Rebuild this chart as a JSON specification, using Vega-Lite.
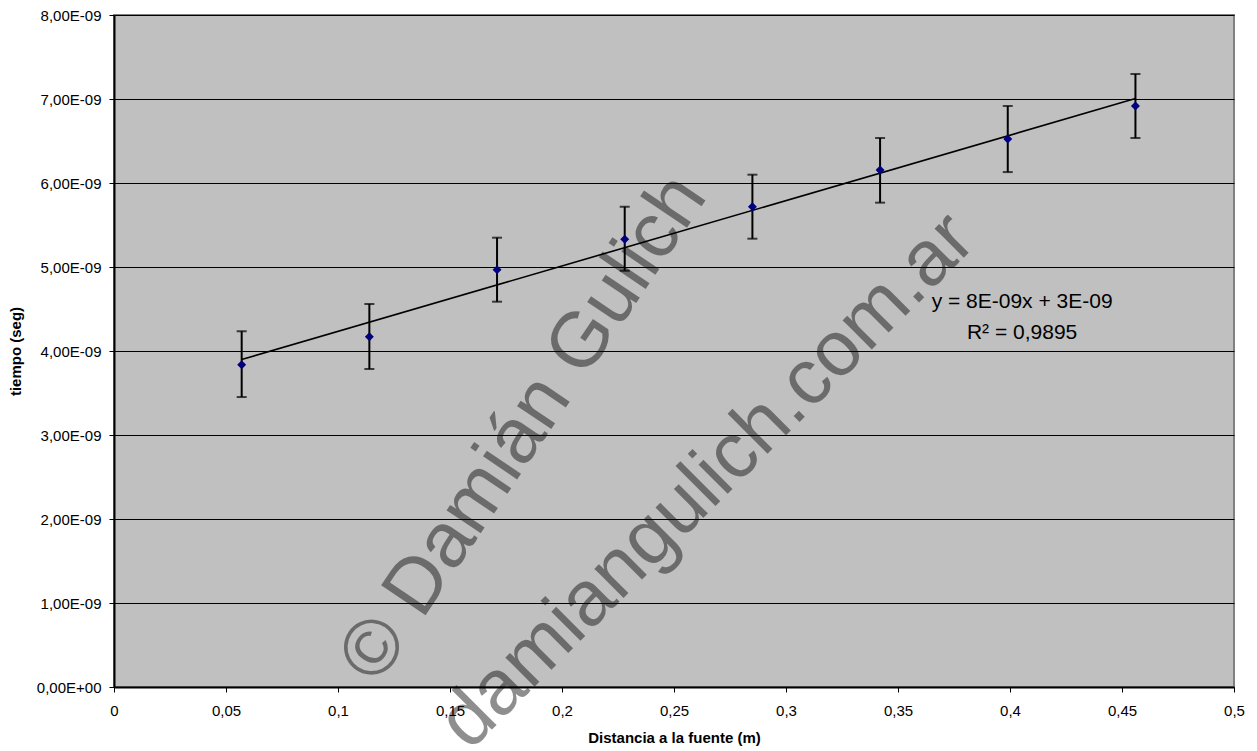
{
  "$schema": "https://vega.github.io/schema/vega-lite/v6.json",
  "width": 1120,
  "height": 672,
  "autosize": "none",
  "padding": {"left": 114, "top": 15, "right": 23, "bottom": 64},
  "background": "white",
  "config": {
    "font": "Liberation Sans",
    "view": {"fill": "#c0c0c0", "stroke": "#808080", "strokeWidth": 2},
    "axis": {
      "labelFont": "Liberation Sans",
      "labelFontSize": 15,
      "labelColor": "black",
      "titleFont": "Liberation Sans",
      "titleFontSize": 15,
      "titleFontWeight": "bold",
      "titleColor": "black",
      "domainColor": "black",
      "domainWidth": 2,
      "tickColor": "black",
      "tickSize": 5,
      "tickWidth": 1
    }
  },
  "datasets": {
    "pts": [
      {"x": 0.057, "t": 3.837e-9, "lo": 3.452e-9, "hi": 4.235e-9},
      {"x": 0.114, "t": 4.170e-9, "lo": 3.786e-9, "hi": 4.560e-9},
      {"x": 0.171, "t": 4.968e-9, "lo": 4.587e-9, "hi": 5.349e-9},
      {"x": 0.228, "t": 5.330e-9, "lo": 4.956e-9, "hi": 5.718e-9},
      {"x": 0.285, "t": 5.718e-9, "lo": 5.337e-9, "hi": 6.099e-9},
      {"x": 0.342, "t": 6.155e-9, "lo": 5.766e-9, "hi": 6.536e-9},
      {"x": 0.399, "t": 6.524e-9, "lo": 6.130e-9, "hi": 6.917e-9},
      {"x": 0.456, "t": 6.917e-9, "lo": 6.536e-9, "hi": 7.298e-9}
    ],
    "eq": [
      {"x": 0.4054, "t": 4.587e-9, "label": "y = 8E-09x + 3E-09"},
      {"x": 0.4054, "t": 4.214e-9, "label": "R² = 0,9895"}
    ],
    "wm": [
      {"x": 0.1830, "t": 3.08e-9, "label": "© Damián Gulich", "ang": -56},
      {"x": 0.2650, "t": 2.45e-9, "label": "damiangulich.com.ar", "ang": -45}
    ]
  },
  "encoding": {
    "x": {
      "field": "x",
      "type": "quantitative",
      "scale": {"domain": [0, 0.5], "nice": false, "zero": false},
      "axis": {
        "title": "Distancia a la fuente (m)",
        "values": [0, 0.05, 0.1, 0.15, 0.2, 0.25, 0.3, 0.35, 0.4, 0.45, 0.5],
        "labelExpr": "replace(format(datum.value, '~g'), '.', ',')",
        "grid": false,
        "labelPadding": 11,
        "titlePadding": 12,
        "labelFlush": false
      }
    },
    "y": {
      "field": "t",
      "type": "quantitative",
      "scale": {"domain": [0, 8e-9], "nice": false},
      "axis": {
        "title": "tiempo (seg)",
        "values": [0, 1e-9, 2e-9, 3e-9, 4e-9, 5e-9, 6e-9, 7e-9, 8e-9],
        "labelExpr": "datum.value == 0 ? '0,00E+00' : replace(format(datum.value*1e9, '.2f'), '.', ',') + 'E-09'",
        "grid": true,
        "gridColor": "black",
        "gridWidth": 1,
        "labelPadding": 8,
        "titlePadding": 13,
        "labelFlush": false
      }
    }
  },
  "layer": [
    {
      "data": {"name": "pts"},
      "mark": {"type": "errorbar", "color": "black", "thickness": 2, "ticks": {"size": 10, "thickness": 2, "color": "black"}},
      "encoding": {
        "y": {"field": "lo", "type": "quantitative", "title": "tiempo (seg)"},
        "y2": {"field": "hi"}
      }
    },
    {
      "data": {"name": "pts"},
      "transform": [{"regression": "t", "on": "x"}],
      "mark": {"type": "line", "color": "black", "strokeWidth": 1.6}
    },
    {
      "data": {"name": "pts"},
      "mark": {"type": "point", "shape": "diamond", "filled": true, "color": "#000080", "size": 80, "opacity": 1}
    },
    {
      "data": {"name": "eq"},
      "mark": {"type": "text", "font": "Liberation Sans", "fontSize": 21, "color": "black", "align": "center", "baseline": "middle"},
      "encoding": {"text": {"field": "label"}}
    },
    {
      "data": {"name": "wm"},
      "mark": {"type": "text", "font": "Liberation Sans", "fontSize": 78, "color": "black", "opacity": 0.44, "align": "center", "baseline": "middle"},
      "encoding": {"text": {"field": "label"}, "angle": {"field": "ang", "type": "quantitative", "scale": null}}
    }
  ]
}
